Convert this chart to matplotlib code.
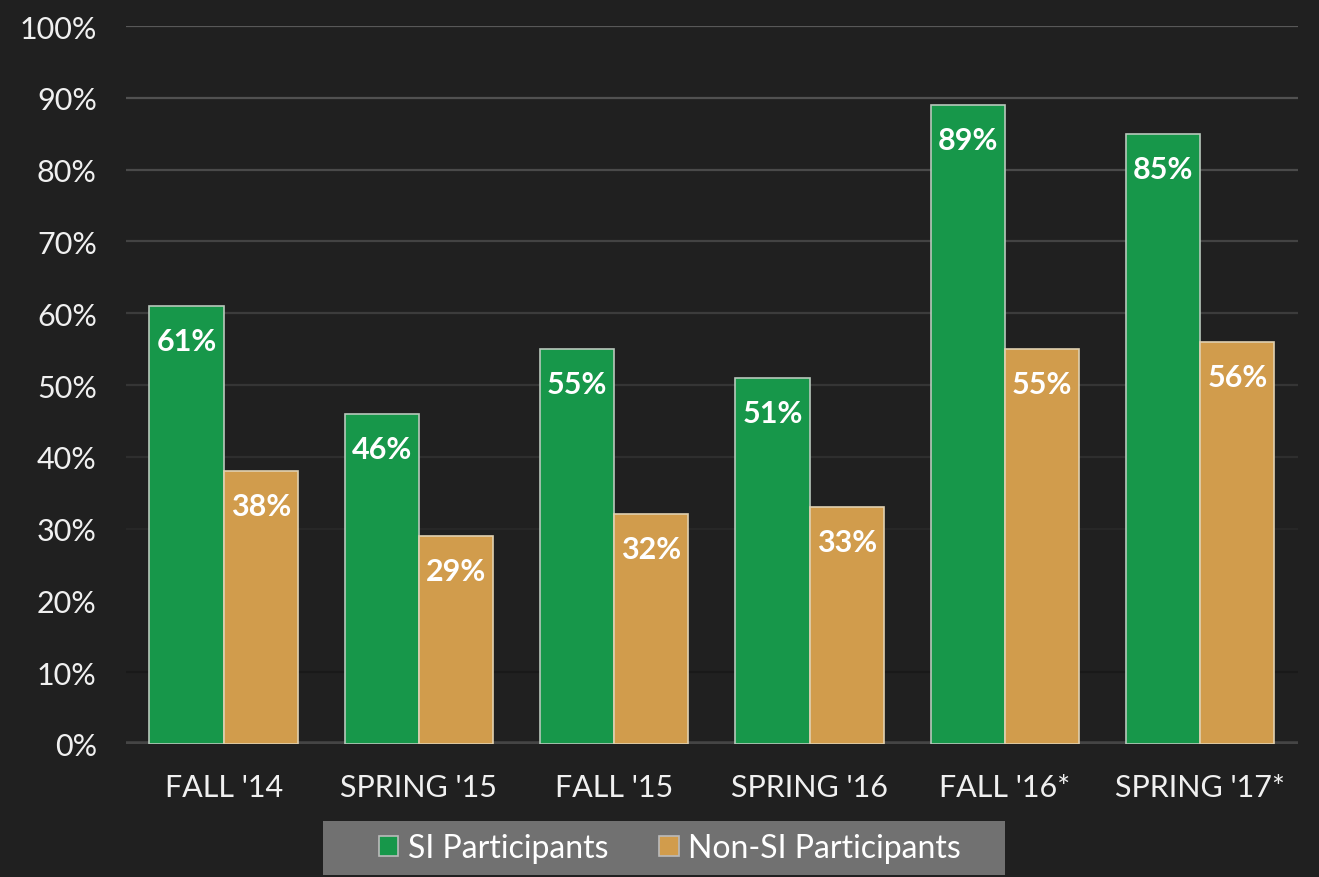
import numpy as np
import matplotlib
matplotlib.use("Agg")
import matplotlib.pyplot as plt
from matplotlib.patches import Rectangle

terms = ["FALL '14", "SPRING '15", "FALL '15", "SPRING '16", "FALL '16*", "SPRING '17*"]
si_pct = [61, 46, 55, 51, 89, 85]
non_si_pct = [38, 29, 32, 33, 55, 56]
series_names = ["SI Participants", "Non-SI Participants"]
yticks = [0, 10, 20, 30, 40, 50, 60, 70, 80, 90, 100]

bg = "#202020"
green = "#17974a"
orange = "#d19c4c"

plt.rcParams["font.family"] = ["Lato", "DejaVu Sans"]

fig = plt.figure(figsize=(13.19, 8.78), dpi=100, facecolor=bg)
ax = fig.add_axes([0.0955, 0.1515, 0.8885, 0.8177])
ax.set_facecolor(bg)

x = np.arange(len(terms))
w = 0.38

# gridlines fade from lighter at top to darker near the bottom
for t in yticks[1:]:
    f = (t - 10) / 90
    c = int(round(0x19 + f * (0x58 - 0x19)))
    ax.axhline(t, color="#%02x%02x%02x" % (c, c, c), lw=1.6, zorder=0)

b1 = ax.bar(x - w / 2, si_pct, w, color=green, edgecolor="#b8c8bc", linewidth=1.2,
            label=series_names[0], zorder=2)
b2 = ax.bar(x + w / 2, non_si_pct, w, color=orange, edgecolor="#e0d0b0", linewidth=1.2,
            label=series_names[1], zorder=2)

for bars, vals in [(b1, si_pct), (b2, non_si_pct)]:
    for r, v in zip(bars, vals):
        ax.annotate(f"{v}%", (r.get_x() + r.get_width() / 2, v), xytext=(0, -15),
                    textcoords="offset points", ha="center", va="top",
                    color="white", fontsize=22, fontweight="bold", zorder=3)

ax.axhline(0, color="#454545", lw=4, zorder=1)

ax.set_xlim(-0.5, len(terms) - 0.5)
ax.set_ylim(0, 100)
ax.set_yticks(yticks)
ax.set_yticklabels([f"{t}%" for t in yticks])
ax.set_xticks(x)
ax.set_xticklabels(terms)
ax.tick_params(axis="y", length=0, pad=21, labelsize=22, labelcolor="#f0f0f0")
ax.tick_params(axis="x", length=0, pad=21, labelsize=22, labelcolor="#f0f0f0")
for s in ax.spines.values():
    s.set_visible(False)

# legend box
fig.patches.append(Rectangle((323 / 1319, 2 / 878), 682 / 1319, 54 / 878,
                             transform=fig.transFigure, facecolor="#717171",
                             edgecolor="none", zorder=0))
leg = fig.legend(loc="center", bbox_to_anchor=(0.508, 29 / 878), ncol=2,
                 frameon=False, prop={"size": 23},
                 labelcolor="white", handlelength=0.6, handleheight=0.6,
                 handletextpad=0.3, columnspacing=1.6, borderaxespad=0)
for h in leg.legend_handles:
    h.set_edgecolor("#bbbbbb")

fig.savefig("out.png", dpi=100, facecolor=bg)
